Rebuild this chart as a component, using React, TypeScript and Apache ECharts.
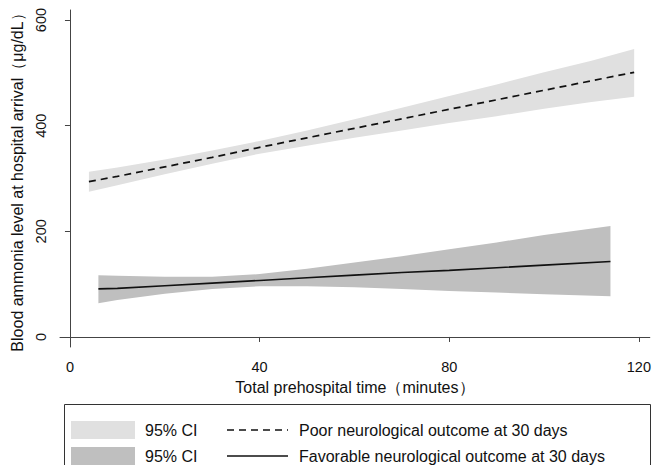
import React, { useEffect, useRef } from "react";
import * as echarts from "echarts";

// Poor neurological outcome at 30 days
const poorX = [4, 10, 20, 30, 40, 50, 60, 70, 80, 90, 100, 110, 119];
const poorMean = [294, 304, 322, 340, 359, 377, 395, 413, 431, 449, 467, 485, 501];
const poorUpper = [313, 321, 336, 353, 371, 391, 412, 434, 456, 478, 501, 523, 545];
const poorLower = [275, 287, 308, 328, 347, 362, 377, 391, 405, 418, 432, 445, 455];

// Favorable neurological outcome at 30 days
const favX = [6, 10, 20, 30, 40, 50, 60, 70, 80, 90, 100, 114];
const favMean = [91, 92, 97, 102, 107, 112, 117, 122, 126, 131, 136, 143];
const favUpper = [117, 116, 114, 114, 119, 129, 141, 153, 166, 179, 193, 210];
const favLower = [64, 70, 82, 91, 96, 96, 94, 91, 87, 84, 81, 77];

const xTicks = [0, 40, 80, 120];
const yTicks = [0, 200, 400, 600];

const xTitle = "Total prehospital time（minutes）";
const yTitle = "Blood ammonia level at hospital arrival（μg/dL）";
const ciLabel = "95% CI";
const poorLabel = "Poor neurological outcome at 30 days";
const favLabel = "Favorable neurological outcome at 30 days";

const FONT = "'Liberation Sans', Arial, sans-serif";
const TEXT = "#111";
const AXIS = "#444";
const POOR_FILL = "#e0e0e0";
const FAV_FILL = "#bfbfbf";

function bandSeries(xs: number[], lo: number[], hi: number[], color: string) {
  const data = xs.map((x, i) => [x, lo[i], hi[i]]);
  return {
    type: "custom",
    silent: true,
    encode: { x: 0, y: [1, 2] },
    data,
    renderItem: (params: any, api: any) => {
      if (params.dataIndex !== 0) return null;
      const upper = data.map((d) => api.coord([d[0], d[2]]));
      const lower = data.map((d) => api.coord([d[0], d[1]])).reverse();
      return {
        type: "polygon",
        shape: { points: upper.concat(lower) },
        style: { fill: color, stroke: "none" },
      };
    },
  };
}

export default function App() {
  const ref = useRef<HTMLDivElement>(null);
  useEffect(() => {
    if (!ref.current) return;
    const chart = echarts.init(ref.current, null, { renderer: "svg" });
    const zip = (xs: number[], ys: number[]) => xs.map((x, i) => [x, ys[i]]);
    const base = { type: "line", showSymbol: false, symbol: "none", silent: true };
    const legendText = (text: string, x: number, y: number) => ({
      type: "text",
      x,
      y,
      style: { text, fontSize: 16, fill: TEXT, fontFamily: FONT, verticalAlign: "middle" },
    });
    chart.setOption({
      animation: false,
      textStyle: { fontFamily: FONT },
      grid: { left: 60, top: 10, right: 4, bottom: 118 },
      xAxis: {
        type: "value",
        min: -2.1,
        max: 122.3,
        splitLine: { show: false },
        axisLine: { show: true, lineStyle: { color: AXIS, width: 1 } },
        axisTick: { show: true, length: 5, customValues: xTicks, lineStyle: { color: AXIS } },
        axisLabel: { customValues: xTicks, fontSize: 14.5, color: TEXT, margin: 12, fontFamily: FONT },
        name: xTitle,
        nameLocation: "middle",
        nameGap: 32,
        nameTextStyle: { fontSize: 16, color: TEXT, fontFamily: FONT },
      },
      yAxis: {
        type: "value",
        min: -19,
        max: 619,
        splitLine: { show: false },
        axisLine: { show: true, lineStyle: { color: AXIS, width: 1 } },
        axisTick: { show: true, length: 5, customValues: yTicks, lineStyle: { color: AXIS } },
        axisLabel: { customValues: yTicks, fontSize: 14.5, color: TEXT, rotate: 90, margin: 12, fontFamily: FONT },
        name: yTitle,
        nameLocation: "middle",
        nameRotate: 90,
        nameGap: 33,
        nameTextStyle: { fontSize: 16, color: TEXT, fontFamily: FONT },
      },
      series: [
        bandSeries(poorX, poorLower, poorUpper, POOR_FILL),
        bandSeries(favX, favLower, favUpper, FAV_FILL),
        {
          ...base,
          name: poorLabel,
          data: zip(poorX, poorMean),
          lineStyle: { color: TEXT, width: 1.7, type: [7, 5] },
        },
        {
          ...base,
          name: favLabel,
          data: zip(favX, favMean),
          lineStyle: { color: TEXT, width: 1.6 },
        },
      ],
      graphic: [
        {
          type: "rect",
          shape: { x: 64.5, y: 404.5, width: 586, height: 80 },
          style: { fill: "#fff", stroke: "#333", lineWidth: 1 },
          silent: true,
        },
        { type: "rect", shape: { x: 71, y: 421, width: 64, height: 18 }, style: { fill: POOR_FILL } },
        { type: "rect", shape: { x: 71, y: 447, width: 64, height: 18 }, style: { fill: FAV_FILL } },
        legendText(ciLabel, 145, 430),
        legendText(ciLabel, 145, 456),
        {
          type: "line",
          shape: { x1: 227, y1: 430, x2: 288, y2: 430 },
          style: { stroke: TEXT, lineWidth: 1.6, lineDash: [7, 5] },
        },
        {
          type: "line",
          shape: { x1: 227, y1: 456, x2: 288, y2: 456 },
          style: { stroke: TEXT, lineWidth: 1.6 },
        },
        legendText(poorLabel, 299, 430),
        legendText(favLabel, 299, 456),
      ],
    });
    return () => chart.dispose();
  }, []);
  return <div ref={ref} style={{ width: 654, height: 465, position: "absolute", left: 0, top: 0, background: "#fff" }} />;
}
